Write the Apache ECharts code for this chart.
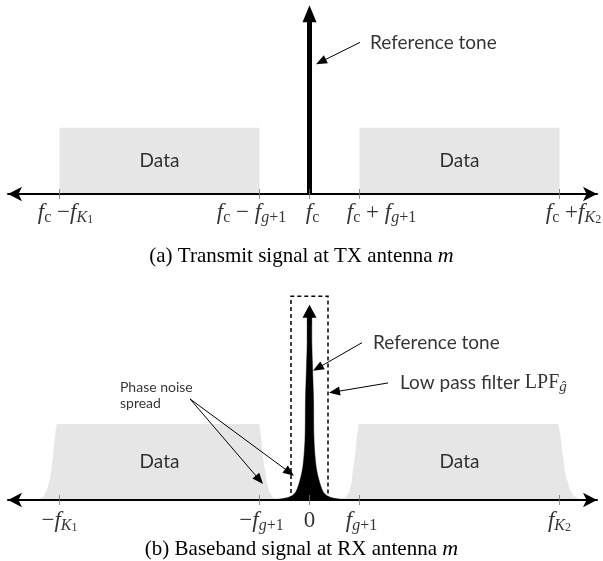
<!DOCTYPE html>
<html>
<head>
<meta charset="utf-8">
<script src="https://cdn.jsdelivr.net/npm/echarts@6/dist/echarts.min.js"></script>
<style>
  html, body { margin: 0; padding: 0; background: #fff; }
  #c { width: 603px; height: 561px; }
</style>
</head>
<body>
<div id="c"></div>
<script>
// Frequency axis in normalised units: outer band edge = 5, guard edge = 1.
const txTickValues = [-5, -1, 0, 1, 5];
const txTickLabels = [
  '{i|f}{s|c}{n| −}{i|f}{si|K}{ss|1}',
  '{i|f}{s|c}{n| − }{i|f}{si|g}{s|+1}',
  '{i|f}{s|c}',
  '{i|f}{s|c}{n| + }{i|f}{si|g}{s|+1}',
  '{i|f}{s|c}{n| +}{i|f}{si|K}{ss|2}'
];
const rxTickValues = [-5, -1, 0, 1, 5];
const rxTickLabels = [
  '{n|−}{i|f}{si|K}{ss|1}',
  '{n|−}{i|f}{si|g}{s|+1}',
  '{n|0}',
  '{i|f}{si|g}{s|+1}',
  '{i|f}{si|K}{ss|2}'
];

// Transmit spectrum: two data bands and the reference tone
const txBands = [[-5, -1], [1, 5]];
const txBandLevel = 1;
const txToneLevel = 2.85;

// Baseband spectrum after down-conversion (band roll-off and phase-noise skirt)
const rxLeftBand = [[-5.48, 0], [-5.4, 0.015], [-5.32, 0.05], [-5.26, 0.12], [-5.2, 0.25], [-5.05, 1],
                    [-1.01, 1], [-0.89, 0.4], [-0.85, 0.22], [-0.8, 0.1], [-0.72, 0.03], [-0.62, 0]];
const rxRightBand = [[0.61, 0], [0.71, 0.03], [0.79, 0.1], [0.84, 0.22], [0.87, 0.4], [0.99, 1],
                     [4.97, 1], [5.15, 0.26], [5.22, 0.12], [5.3, 0.05], [5.4, 0.015], [5.52, 0]];
const rxTone = [[-0.9, 0], [-0.6, 0.012], [-0.4, 0.04], [-0.28, 0.1], [-0.19, 0.26], [-0.13, 0.45],
                [-0.09, 0.79], [-0.08, 1.32], [-0.06, 1.75], [-0.046, 2.1], [-0.045, 2.42],
                [0.045, 2.42], [0.046, 2.1], [0.06, 1.75], [0.08, 1.32], [0.09, 0.79],
                [0.13, 0.45], [0.19, 0.26], [0.28, 0.1], [0.4, 0.04], [0.6, 0.012], [0.9, 0]];
const rxToneTip = 2.57;
const lpfWindow = [-0.37, 0.37, 2.68];

// Callout anchors [from, to] in axis units
const txToneCallout = [[1.01, 2.29], [0.13, 1.96]];
const rxToneCallout = [[1.05, 2.07], [0.07, 1.7]];
const rxLpfCallout = [[1.57, 1.54], [0.39, 1.41]];
const rxNoiseCallouts = [[[-2.39, 1.33], [-0.93, 0.21]], [[-2.39, 1.33], [-0.31, 0.32]]];

const UI_FONT = 'Lato';
const MATH_FONT = 'Liberation Serif';

const mathRich = {
  i:  { fontFamily: MATH_FONT, fontStyle: 'italic', fontSize: 23, lineHeight: 26, color: '#000' },
  n:  { fontFamily: MATH_FONT, fontSize: 23, lineHeight: 26, color: '#000' },
  s:  { fontFamily: MATH_FONT, fontSize: 16, lineHeight: 14, verticalAlign: 'bottom', color: '#000' },
  si: { fontFamily: MATH_FONT, fontStyle: 'italic', fontSize: 16, lineHeight: 14, verticalAlign: 'bottom', color: '#000' },
  ss: { fontFamily: MATH_FONT, fontSize: 12, lineHeight: 6, verticalAlign: 'bottom', color: '#000' }
};

function arrowSeries(gi, segs, lw, headL, headW) {
  return {
    type: 'custom', xAxisIndex: gi, yAxisIndex: gi, clip: false, z: 6, silent: true,
    data: segs.map(s => [s[0][0], s[0][1], s[1][0], s[1][1]]),
    renderItem(params, api) {
      const a = api.coord([api.value(0), api.value(1)]);
      const b = api.coord([api.value(2), api.value(3)]);
      const dx = b[0] - a[0], dy = b[1] - a[1];
      const len = Math.hypot(dx, dy);
      const ux = dx / len, uy = dy / len, nx = -uy, ny = ux;
      const c = [b[0] - ux * headL, b[1] - uy * headL];
      return {
        type: 'group',
        children: [
          { type: 'line', shape: { x1: a[0], y1: a[1], x2: c[0] + ux, y2: c[1] + uy },
            style: { stroke: '#000', lineWidth: lw } },
          { type: 'polygon',
            shape: { points: [b, [c[0] + nx * headW / 2, c[1] + ny * headW / 2], [c[0] - nx * headW / 2, c[1] - ny * headW / 2]] },
            style: { fill: '#000' } }
        ]
      };
    }
  };
}

function tickSeries(gi, values, labels, shifts, dist) {
  return {
    type: 'scatter', xAxisIndex: gi, yAxisIndex: gi, z: 7, silent: true,
    symbol: 'rect', symbolSize: [1, 10],
    itemStyle: { color: '#777' },
    data: values.map((v, k) => ({
      value: [v, 0],
      label: { offset: [shifts[k], 0] }
    })),
    label: {
      show: true, position: 'bottom', distance: dist,
      formatter: p => labels[p.dataIndex],
      rich: mathRich
    }
  };
}

function textSeries(gi, items) {
  return {
    type: 'scatter', xAxisIndex: gi, yAxisIndex: gi, z: 8, silent: true,
    symbolSize: 0,
    data: items.map(t => ({ value: t.at, label: t.label })),
    label: { show: true, color: '#000', fontFamily: UI_FONT }
  };
}

function axisX(gi) {
  return {
    gridIndex: gi, type: 'value', min: -6.03, max: 5.75, z: 5,
    axisLine: { show: true, onZero: false, symbol: ['arrow', 'arrow'], symbolSize: [11, 14],
                lineStyle: { color: '#000', width: 2 } },
    axisTick: { show: false }, axisLabel: { show: false }, splitLine: { show: false }
  };
}

function bandLine(data) {
  return {
    type: 'line', xAxisIndex: 1, yAxisIndex: 1, z: 2, silent: true, symbol: 'none',
    smooth: 0.2, smoothMonotone: 'x',
    lineStyle: { width: 0 }, areaStyle: { color: '#e6e6e6', opacity: 1 },
    data
  };
}

const captionStyle = {
  fontFamily: MATH_FONT, fontSize: 21, fontWeight: 'normal', color: '#000',
  rich: { m: { fontFamily: MATH_FONT, fontStyle: 'italic', fontSize: 22, color: '#000' } }
};

const option = {
  backgroundColor: '#fff',
  animation: false,
  title: [
    { text: '(a) Transmit signal at TX antenna {m|m}', left: 'center', top: 240, textStyle: captionStyle },
    { text: '(b) Baseband signal at RX antenna {m|m}', left: 'center', top: 533, textStyle: captionStyle }
  ],
  grid: [
    { left: 8, right: 6, top: 2, height: 192 },
    { left: 8, right: 6, top: 290, height: 210 }
  ],
  xAxis: [axisX(0), axisX(1)],
  yAxis: [
    { gridIndex: 0, type: 'value', min: 0, max: 2.9, show: false },
    { gridIndex: 1, type: 'value', min: 0, max: 2.763, show: false }
  ],
  series: [
    // transmit bands
    {
      type: 'custom', xAxisIndex: 0, yAxisIndex: 0, z: 2, silent: true,
      data: txBands.map(b => [b[0], b[1], txBandLevel]),
      renderItem(params, api) {
        const p0 = api.coord([api.value(0), api.value(2)]);
        const p1 = api.coord([api.value(1), 0]);
        return { type: 'rect', shape: { x: p0[0], y: p0[1], width: p1[0] - p0[0], height: p1[1] - p0[1] },
                 style: { fill: '#e6e6e6' } };
      }
    },
    arrowSeries(0, [[[0, 0], [0, txToneLevel]]], 5, 17, 14),
    arrowSeries(0, [txToneCallout], 1, 11, 9),
    tickSeries(0, txTickValues, txTickLabels, [6, -8, 3, 22, 14], 1),
    textSeries(0, [
      { at: [1.21, 2.29], label: { formatter: 'Reference tone', position: 'right', distance: 0, fontSize: 19 } },
      { at: [-3, 0.5], label: { formatter: 'Data', position: 'inside', fontSize: 19 } },
      { at: [3, 0.5], label: { formatter: 'Data', position: 'inside', fontSize: 19 } }
    ]),

    // baseband bands
    bandLine(rxLeftBand),
    bandLine(rxRightBand),
    // reference tone with phase-noise skirt
    {
      type: 'line', xAxisIndex: 1, yAxisIndex: 1, z: 3, silent: true, symbol: 'none',
      smooth: 0.3,
      lineStyle: { width: 0.5, color: '#000' }, areaStyle: { color: '#000', opacity: 1 },
      data: rxTone
    },
    arrowSeries(1, [[[0, 2.3], [0, rxToneTip]]], 4, 13, 14),
    // low-pass filter window
    {
      type: 'custom', xAxisIndex: 1, yAxisIndex: 1, z: 4, silent: true, clip: false,
      data: [lpfWindow],
      renderItem(params, api) {
        const p0 = api.coord([api.value(0), api.value(2)]);
        const p1 = api.coord([api.value(1), 0]);
        return { type: 'polyline',
                 shape: { points: [[p0[0], p1[1]], [p0[0], p0[1]], [p1[0], p0[1]], [p1[0], p1[1]]] },
                 style: { stroke: '#000', lineWidth: 1.5, lineDash: [4, 3], fill: null } };
      }
    },
    arrowSeries(1, [rxToneCallout, rxLpfCallout], 1, 11, 9),
    arrowSeries(1, rxNoiseCallouts, 1, 11, 9),
    tickSeries(1, rxTickValues, rxTickLabels, [0, 2, 0, 2, 0], 3),
    textSeries(1, [
      { at: [1.27, 2.07], label: { formatter: 'Reference tone', position: 'right', distance: 0, fontSize: 19 } },
      { at: [1.81, 1.54], label: {
          formatter: '{t|Low pass filter }{m|LPF}{g|ĝ}', position: 'right', distance: 0,
          rich: {
            t: { fontFamily: UI_FONT, fontSize: 19, lineHeight: 24, color: '#000' },
            m: { fontFamily: MATH_FONT, fontSize: 20, lineHeight: 24, color: '#000' },
            g: { fontFamily: MATH_FONT, fontStyle: 'italic', fontSize: 15, lineHeight: 12, verticalAlign: 'bottom', color: '#000' }
          } } },
      { at: [-3.79, 1.37], label: { formatter: 'Phase noise\nspread', position: 'right', distance: 0,
          fontSize: 14, lineHeight: 16, align: 'left' } },
      { at: [-3, 0.5], label: { formatter: 'Data', position: 'inside', fontSize: 19 } },
      { at: [3, 0.5], label: { formatter: 'Data', position: 'inside', fontSize: 19 } }
    ])
  ]
};

const chart = echarts.init(document.getElementById('c'));
chart.setOption(option);
</script>
</body>
</html>
